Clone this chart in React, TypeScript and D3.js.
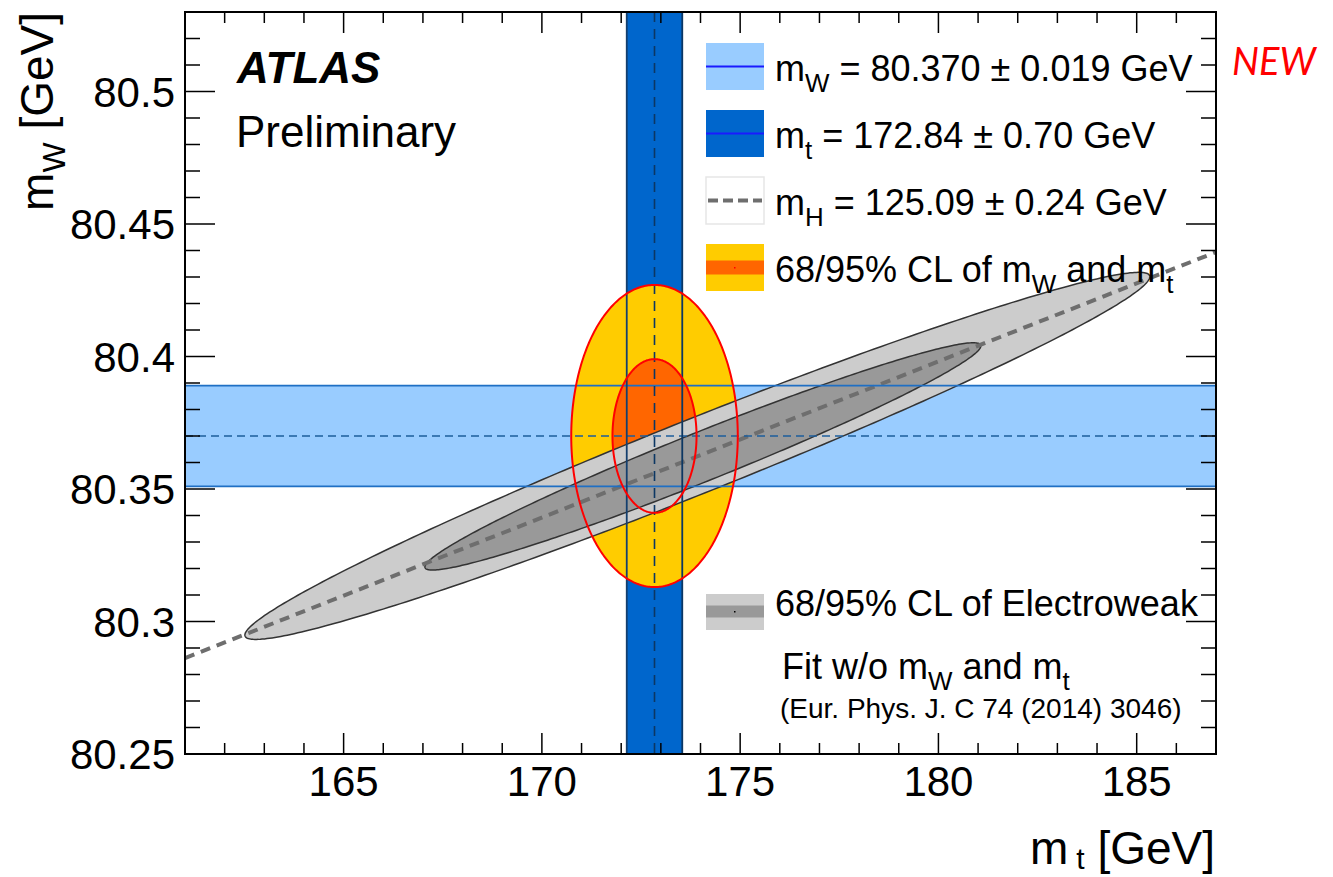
import React from "react";
import * as d3 from "d3";

// axis ticks
const xTickValues = [165, 170, 175, 180, 185];
const xTickLabels = ["165", "170", "175", "180", "185"];
const yTickValues = [80.25, 80.3, 80.35, 80.4, 80.45, 80.5];
const yTickLabels = ["80.25", "80.3", "80.35", "80.4", "80.45", "80.5"];

// direct measurements (central, uncertainty)
const mwMeas = [80.37, 0.019];
const mtMeas = [172.84, 0.7];

// 68/95% CL contours of the mW/mt measurement: centre and half-extent
const measContours = [
  { level: "95", mt: 172.84, mw: 80.37, dmt: 2.1, dmw: 0.057 },
  { level: "68", mt: 172.84, mw: 80.37, dmt: 1.06, dmw: 0.029 },
];

// electroweak fit contours: centre, half-extent along mt (with the mw that goes with it), vertical half-width
const ewContours = [
  { level: "95", mt: 173.92, mw: 80.3625, amt: 11.41, amw: 0.0676, h: 0.0151 },
  { level: "68", mt: 174.06, mw: 80.3623, amt: 7.01, amw: 0.0417, h: 0.01 },
];

// fixed mH line of the fit
const higgsLine = [
  [161, 80.2862],
  [187, 80.4394],
];

const W = 1333;
const H = 877;
const FONT = "'Liberation Sans', Arial, Helvetica, sans-serif";

const x = d3.scaleLinear().domain([161, 187]).range([185, 1216]);
const y = d3.scaleLinear().domain([80.25, 80.53]).range([754, 12]);

const closed = d3
  .line<[number, number]>()
  .x((d) => x(d[0]))
  .y((d) => y(d[1]))
  .curve(d3.curveLinearClosed);

const angles = d3.range(0, 360, 1).map((a) => (a * Math.PI) / 180);

const measPath = (c) =>
  closed(angles.map((t) => [c.mt + c.dmt * Math.cos(t), c.mw + c.dmw * Math.sin(t)]));

const ewPath = (c) =>
  closed(
    angles.map((t) => [
      c.mt + c.amt * Math.cos(t),
      c.mw + c.amw * Math.cos(t) + c.h * Math.sin(t),
    ])
  );

const Sub = ({ x0, y0, size, parts }) => (
  <text x={x0} y={y0} fontSize={size} fontFamily={FONT} fill="#000">
    {parts.map((p, i) =>
      p.sub ? (
        <tspan key={i} dy={size * 0.3} fontSize={size * 0.72}>
          {p.t}
        </tspan>
      ) : (
        <tspan key={i} dy={i > 0 && parts[i - 1].sub ? -size * 0.3 : 0}>
          {p.t}
        </tspan>
      )
    )}
  </text>
);

export default function App() {
  const [x0, x1] = x.range();
  const [y0, y1] = y.range();
  const xMinor = x.ticks(26);
  const yMinor = y.ticks(28);

  const mwLo = y(mwMeas[0] - mwMeas[1]);
  const mwHi = y(mwMeas[0] + mwMeas[1]);
  const mtLo = x(mtMeas[0] - mtMeas[1]);
  const mtHi = x(mtMeas[0] + mtMeas[1]);

  const lx = 706;
  const lw = 58;
  const tx = 775;
  const rows = [43, 110, 177, 244];
  const fs = 36;

  return (
    <svg
      width={W}
      height={H}
      style={{ position: "absolute", left: 0, top: 0, background: "#fff" }}
    >
      <defs>
        <clipPath id="frame">
          <rect x={x0} y={y1} width={x1 - x0} height={y0 - y1} />
        </clipPath>
      </defs>

      <g clipPath="url(#frame)">
        {/* measurement bands */}
        <rect x={mtLo} y={y1} width={mtHi - mtLo} height={y0 - y1} fill="#0066cc" />
        <rect x={x0} y={mwHi} width={x1 - x0} height={mwLo - mwHi} fill="#99ccff" />

        {/* measurement CL ellipses */}
        <path d={measPath(measContours[0])} fill="#ffcc00" />
        <path d={measPath(measContours[1])} fill="#ff6600" />

        {/* electroweak fit */}
        <path d={ewPath(ewContours[0])} fill="#cccccc" stroke="#333" strokeWidth={1.5} />
        <path d={ewPath(ewContours[1])} fill="#999999" stroke="#333" strokeWidth={1.5} />
        <path
          d={d3.line().x((d) => x(d[0])).y((d) => y(d[1]))(higgsLine)}
          fill="none"
          stroke="#6e6e6e"
          strokeWidth={4}
          strokeDasharray="10,7"
        />

        {/* band edges and centres */}
        <line x1={x0} x2={x1} y1={mwHi} y2={mwHi} stroke="#1f6fc4" strokeWidth={1.6} />
        <line x1={x0} x2={x1} y1={mwLo} y2={mwLo} stroke="#1f6fc4" strokeWidth={1.6} />
        <line
          x1={x0}
          x2={x1}
          y1={y(mwMeas[0])}
          y2={y(mwMeas[0])}
          stroke="#1d5e9c"
          strokeWidth={1.6}
          strokeDasharray="8,5"
        />
        <line x1={mtLo} x2={mtLo} y1={y1} y2={y0} stroke="#143f6e" strokeWidth={1.8} />
        <line x1={mtHi} x2={mtHi} y1={y1} y2={y0} stroke="#0c3763" strokeWidth={1.8} />
        <line
          x1={x(mtMeas[0])}
          x2={x(mtMeas[0])}
          y1={y1}
          y2={y0}
          stroke="#0c3763"
          strokeWidth={1.6}
          strokeDasharray="10,7"
        />

        {/* red outlines */}
        {measContours.map((c) => (
          <path key={c.level} d={measPath(c)} fill="none" stroke="#ff0000" strokeWidth={2} />
        ))}
      </g>

      {/* ticks */}
      <g stroke="#000" strokeWidth={1.5}>
        {xMinor.map((t) => {
          const major = xTickValues.includes(t);
          return (
            <g key={`x${t}`}>
              <line x1={x(t)} x2={x(t)} y1={y0} y2={y0 - (major ? 21 : 11)} />
              <line x1={x(t)} x2={x(t)} y1={y1} y2={y1 + (major ? 21 : 11)} />
            </g>
          );
        })}
        {yMinor.map((t) => {
          const major = yTickValues.some((v) => Math.abs(v - t) < 1e-6);
          return (
            <g key={`y${t}`}>
              <line x1={x0} x2={x0 + (major ? 30 : 15)} y1={y(t)} y2={y(t)} />
              <line x1={x1} x2={x1 - (major ? 30 : 15)} y1={y(t)} y2={y(t)} />
            </g>
          );
        })}
      </g>
      <rect x={x0} y={y1} width={x1 - x0} height={y0 - y1} fill="none" stroke="#000" strokeWidth={2} />

      {/* tick labels */}
      <g fontFamily={FONT} fontSize={42} fill="#000">
        {xTickValues.map((t, i) => (
          <text key={t} x={x(t)} y={796} textAnchor="middle">
            {xTickLabels[i]}
          </text>
        ))}
        {yTickValues.map((t, i) => (
          <text key={t} x={175} y={y(t) + 15} textAnchor="end">
            {yTickLabels[i]}
          </text>
        ))}
      </g>

      {/* axis titles */}
      <text x={1215} y={864} textAnchor="end" fontFamily={FONT} fontSize={46}>
        <tspan>m</tspan>
        <tspan dx={8} dy={5} fontSize={30}>t</tspan>
        <tspan dy={-5}> [GeV]</tspan>
      </text>
      <text
        transform="translate(53,12) rotate(-90)"
        textAnchor="end"
        fontFamily={FONT}
        fontSize={46}
      >
        <tspan>m</tspan>
        <tspan dy={12} fontSize={32}>W</tspan>
        <tspan dy={-12}> [GeV]</tspan>
      </text>

      {/* labels */}
      <text x={237} y={83} fontFamily={FONT} fontSize={44} fontWeight="bold" fontStyle="italic">
        ATLAS
      </text>
      <text x={236} y={147} fontFamily={FONT} fontSize={44}>
        Preliminary
      </text>
      <text x={1232} y={75} fontFamily="Lato, sans-serif" fontSize={38} fontStyle="italic" fill="#ff0000">
        NEW
      </text>

      {/* legend */}
      <rect x={lx} y={rows[0]} width={lw} height={47} fill="#99ccff" />
      <line x1={lx} x2={lx + lw} y1={rows[0] + 23.5} y2={rows[0] + 23.5} stroke="#1a1aff" strokeWidth={2} />
      <rect x={lx} y={rows[1]} width={lw} height={47} fill="#0066cc" />
      <line x1={lx} x2={lx + lw} y1={rows[1] + 23.5} y2={rows[1] + 23.5} stroke="#1a1aff" strokeWidth={2} />
      <rect x={lx} y={rows[2]} width={lw} height={47} fill="#fff" stroke="#e6e6e6" strokeWidth={1.5} />
      <line
        x1={lx + 2}
        x2={lx + lw - 2}
        y1={rows[2] + 23.5}
        y2={rows[2] + 23.5}
        stroke="#6e6e6e"
        strokeWidth={4}
        strokeDasharray="10,5"
      />
      <rect x={lx} y={rows[3]} width={lw} height={47} fill="#ffcc00" />
      <rect x={lx} y={rows[3] + 16.5} width={lw} height={14} fill="#ff6600" />
      <rect x={lx + 28} y={rows[3] + 23} width={1.5} height={1.5} fill="#ff0000" />

      <Sub x0={tx} y0={81} size={fs} parts={[{ t: "m" }, { t: "W", sub: true }, { t: " = 80.370 ± 0.019 GeV" }]} />
      <Sub x0={tx} y0={148} size={fs} parts={[{ t: "m" }, { t: "t", sub: true }, { t: " = 172.84 ± 0.70 GeV" }]} />
      <Sub x0={tx} y0={215} size={fs} parts={[{ t: "m" }, { t: "H", sub: true }, { t: " = 125.09 ± 0.24 GeV" }]} />
      <Sub
        x0={tx}
        y0={282}
        size={fs}
        parts={[{ t: "68/95% CL of m" }, { t: "W", sub: true }, { t: " and m" }, { t: "t", sub: true }]}
      />

      <rect x={lx} y={594} width={lw} height={36} fill="#cccccc" />
      <rect x={lx} y={605.5} width={lw} height={12} fill="#999999" />
      <rect x={lx + 28} y={611} width={1.5} height={1.5} fill="#000" />
      <text x={tx} y={616} fontFamily={FONT} fontSize={fs}>
        68/95% CL of Electroweak
      </text>
      <Sub
        x0={782}
        y0={679}
        size={fs}
        parts={[{ t: "Fit w/o m" }, { t: "W", sub: true }, { t: " and m" }, { t: "t", sub: true }]}
      />
      <text x={780} y={718} fontFamily={FONT} fontSize={28}>
        (Eur. Phys. J. C 74 (2014) 3046)
      </text>
    </svg>
  );
}
